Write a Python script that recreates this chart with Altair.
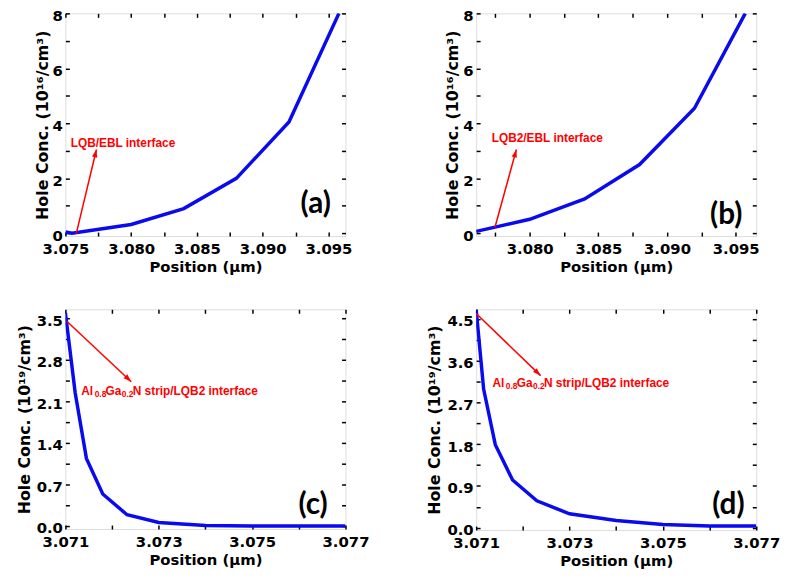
import math
import altair as alt
import pandas as pd

# ---------------- data ----------------
a_pos = [3.0750, 3.0755, 3.0800, 3.0840, 3.0880, 3.0920, 3.0958]
a_conc = [0.05, 0.0, 0.32, 0.90, 2.00, 4.05, 8.0]

b_pos = [3.0761, 3.0800, 3.0840, 3.0880, 3.0920, 3.0957]
b_conc = [0.07, 0.51, 1.25, 2.50, 4.55, 8.0]

c_pos = [3.0710, 3.07121, 3.07145, 3.0718, 3.07232, 3.0730, 3.0740, 3.0750, 3.0760, 3.0770]
c_conc = [3.59, 2.24, 1.14, 0.54, 0.19, 0.06, 0.01, 0.0, 0.0, 0.0]

d_pos = [3.0710, 3.07116, 3.07141, 3.07178, 3.0723, 3.0730, 3.0740, 3.0750, 3.0760, 3.0770]
d_conc = [4.71, 2.99, 1.79, 1.03, 0.58, 0.30, 0.155, 0.07, 0.035, 0.035]

# tick values (all ticks) and labelled (major) ticks
ab_x_ticks = [3.075, 3.0775, 3.08, 3.0825, 3.085, 3.0875, 3.09, 3.0925, 3.095]
a_x_major = [3.075, 3.08, 3.085, 3.09, 3.095]
b_x_major = [3.08, 3.085, 3.09, 3.095]
ab_y_ticks = [0, 1, 2, 3, 4, 5, 6, 7, 8]
ab_y_major = [0, 2, 4, 6, 8]

cd_x_ticks = [3.071, 3.072, 3.073, 3.074, 3.075, 3.076, 3.077]
cd_x_major = [3.071, 3.073, 3.075, 3.077]
c_y_ticks = [0.0, 0.35, 0.7, 1.05, 1.4, 1.75, 2.1, 2.45, 2.8, 3.15, 3.5]
c_y_major = [0.0, 0.7, 1.4, 2.1, 2.8, 3.5]
d_y_ticks = [0.0, 0.45, 0.9, 1.35, 1.8, 2.25, 2.7, 3.15, 3.6, 4.05, 4.5]
d_y_major = [0.0, 0.9, 1.8, 2.7, 3.6, 4.5]

x_title = "Position (μm)"
y_title_16 = "Hole Conc. (10¹⁶/cm³)"
y_title_19 = "Hole Conc. (10¹⁹/cm³)"

# annotations: arrow start -> end (data units), label anchor, text pieces
a_arrow = [3.07583, 0.0, 3.07736, 3.05]
a_note = [3.0754, 3.27]
b_arrow = [3.07747, 0.22, 3.07903, 3.05]
b_note = [3.07723, 3.48]
c_arrow = [3.07103, 3.45, 3.07241, 2.43]
c_note = [3.07134, 2.27]
d_arrow = [3.0710, 4.62, 3.07238, 3.28]
d_note = [3.07135, 3.13]

strip_pieces = [("Al", False), ("0.8", True), ("Ga", False), ("0.2", True), ("N strip/LQB2 interface", False)]
strip_offsets = [0, 13.5, 24.5, 41, 52]

panel_labels = ["(a)", "(b)", "(c)", "(d)"]
panel_label_pos = [[3.09519, 1.05], [3.09549, 0.65], [3.07662, 0.35], [3.07675, 0.49]]

TICK_FONT = "DejaVu Sans"
LINE_BLUE = "#0a0af0"
RED = "#ff0000"


def make_axis(orient, values, majors, fmt, title=None, show_labels=True, title_pad=4):
    kw = dict(orient=orient, values=values, tickSize=4, tickWidth=1.5, tickColor="black",
              offset=-4, domain=False, grid=False, ticks=True)
    if show_labels:
        majors_js = ",".join(repr(float(m)) for m in majors)
        kw.update(format=fmt,
                  labelExpr=f"indexof([{majors_js}], datum.value) >= 0 ? datum.label : ''",
                  labelFont=TICK_FONT, labelFontWeight="bold", labelFontSize=15,
                  labelColor="black", labelOverlap=False, labelFlush=False)
        if orient in ("left", "right"):
            kw.update(labelPadding=3, labelOffset=2)
        else:
            kw.update(labelPadding=6)
    else:
        kw.update(labels=False)
    if title is not None:
        kw.update(title=title, titleFont=TICK_FONT, titleFontWeight="bold",
                  titleFontSize=16 if orient in ("left", "right") else 15,
                  titleColor="black", titlePadding=title_pad)
    else:
        kw.update(title=None)
    return alt.Axis(**kw)


def make_panel(pos, conc, xdom, ydom, xticks, xmajor, xfmt, yticks, ymajor, yfmt,
               ytitle, width, height, arrow, note, pieces, offsets, label, label_xy, ytitle_pad):
    xs = alt.Scale(domain=xdom, nice=False, zero=False)
    ys = alt.Scale(domain=ydom, nice=False, zero=False)
    df = pd.DataFrame({"x": pos, "y": conc})

    line = alt.Chart(df).mark_line(color=LINE_BLUE, strokeWidth=3.5, clip=True).encode(
        x=alt.X("x:Q", scale=xs, axis=make_axis("bottom", xticks, xmajor, xfmt, x_title, title_pad=3)),
        y=alt.Y("y:Q", scale=ys, axis=make_axis("left", yticks, ymajor, yfmt, ytitle, title_pad=ytitle_pad)),
    )
    mirror = alt.Chart(df).mark_line(opacity=0).encode(
        x=alt.X("x:Q", scale=xs, axis=make_axis("top", xticks, xmajor, xfmt, show_labels=False)),
        y=alt.Y("y:Q", scale=ys, axis=make_axis("right", yticks, ymajor, yfmt, show_labels=False)),
    )

    adf = pd.DataFrame({"x": [arrow[0]], "y": [arrow[1]], "x2": [arrow[2]], "y2": [arrow[3]]})
    shaft = alt.Chart(adf).mark_rule(color=RED, strokeWidth=1.5).encode(
        x=alt.X("x:Q", scale=xs, axis=None), y=alt.Y("y:Q", scale=ys, axis=None),
        x2="x2:Q", y2="y2:Q")
    # arrow head direction in pixel space
    dxp = (arrow[2] - arrow[0]) / (xdom[1] - xdom[0]) * width
    dyp = -(arrow[3] - arrow[1]) / (ydom[1] - ydom[0]) * height
    ang = math.degrees(math.atan2(dxp, -dyp)) % 360
    hdf = pd.DataFrame({"x": [arrow[2]], "y": [arrow[3]]})
    head = alt.Chart(hdf).mark_point(shape="M0,0L-0.34,1L0.34,1Z", filled=True, opacity=1,
                                     color=RED, size=256, angle=ang, strokeWidth=0).encode(
        x=alt.X("x:Q", scale=xs, axis=None), y=alt.Y("y:Q", scale=ys, axis=None))

    ndf = pd.DataFrame({"x": [note[0]], "y": [note[1]]})
    texts = []
    for (txt, sub), off in zip(pieces, offsets):
        texts.append(alt.Chart(ndf).mark_text(
            text=txt, align="left", baseline="middle", dx=off, dy=3 if sub else 0,
            font="Liberation Sans", fontWeight="bold", fontSize=8.5 if sub else 12, color=RED).encode(
            x=alt.X("x:Q", scale=xs, axis=None), y=alt.Y("y:Q", scale=ys, axis=None)))

    ldf = pd.DataFrame({"x": [label_xy[0]], "y": [label_xy[1]]})
    plabel = alt.Chart(ldf).mark_text(text=label, align="right", baseline="middle",
                                      font="Lato", fontWeight="bold", fontSize=30, color="black").encode(
        x=alt.X("x:Q", scale=xs, axis=None), y=alt.Y("y:Q", scale=ys, axis=None))

    return alt.layer(line, mirror, shaft, head, *texts, plabel).resolve_axis(
        x="independent", y="independent").properties(width=width, height=height)


pa = make_panel(a_pos, a_conc, [3.075, 3.0963], [-0.1, 8.0], ab_x_ticks, a_x_major, ".3f",
                ab_y_ticks, ab_y_major, "d", y_title_16, 283, 225, a_arrow, a_note,
                [("LQB/EBL interface", False)], [0], panel_labels[0], panel_label_pos[0], 2)
pb = make_panel(b_pos, b_conc, [3.0761, 3.0965], [-0.1, 8.0], ab_x_ticks, b_x_major, ".3f",
                ab_y_ticks, ab_y_major, "d", y_title_16, 283, 225, b_arrow, b_note,
                [("LQB2/EBL interface", False)], [0], panel_labels[1], panel_label_pos[1], 2)
pc = make_panel(c_pos, c_conc, [3.071, 3.077], [-0.05, 3.65], cd_x_ticks, cd_x_major, ".3f",
                c_y_ticks, c_y_major, ".1f", y_title_19, 283, 222, c_arrow, c_note,
                strip_pieces, strip_offsets, panel_labels[2], panel_label_pos[2], 4)
pd_ = make_panel(d_pos, d_conc, [3.071, 3.077], [-0.05, 4.71], cd_x_ticks, cd_x_major, ".3f",
                 d_y_ticks, d_y_major, ".1f", y_title_19, 283, 223, d_arrow, d_note,
                 strip_pieces, strip_offsets, panel_labels[3], panel_label_pos[3], 4)

chart = alt.concat(pa, pb, pc, pd_, columns=2, spacing={"row": 74, "column": 132},
                   bounds="flush").properties(
    padding={"top": -3.5, "left": 7, "right": 0, "bottom": 0}
).configure_view(stroke="black", strokeWidth=2).configure(background="white")

chart.save("out.html", embed_options={"renderer": "svg", "actions": False})
